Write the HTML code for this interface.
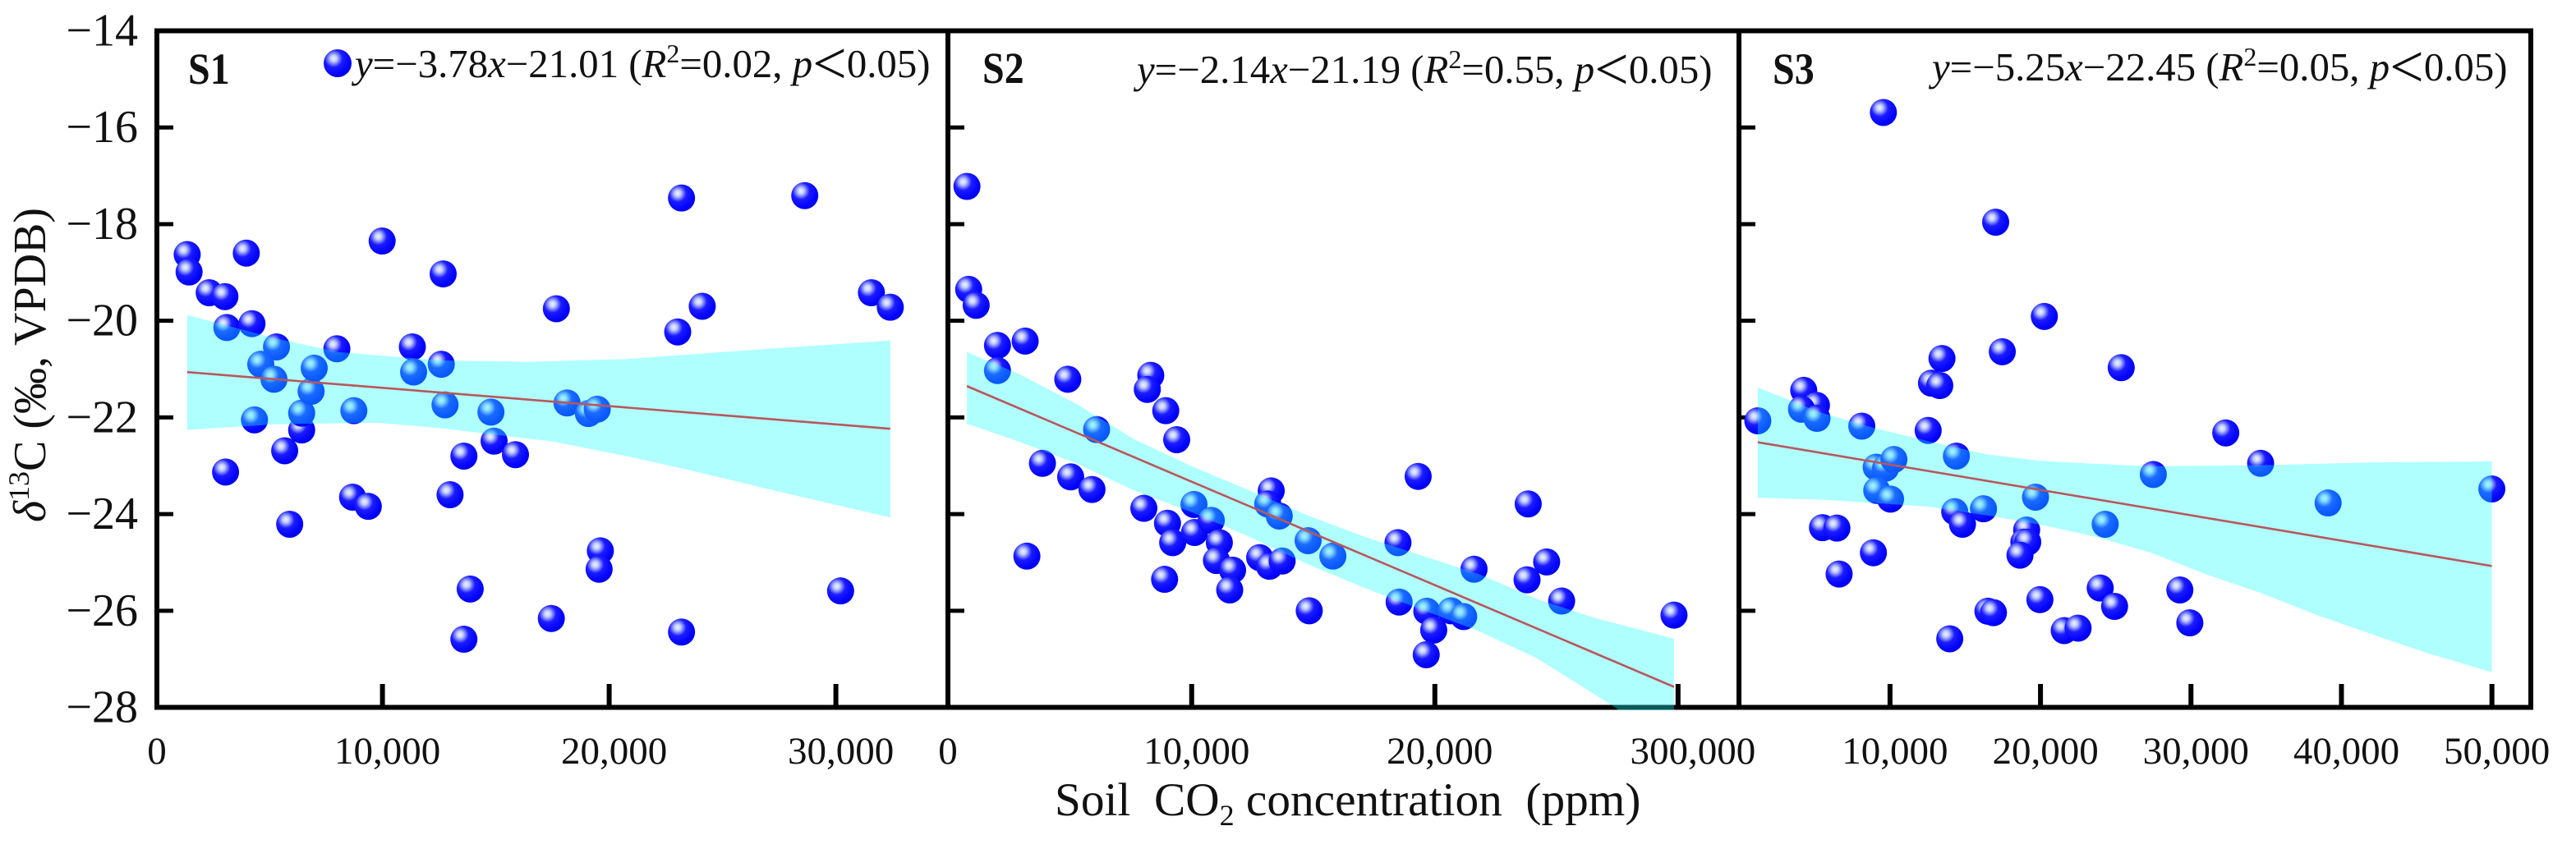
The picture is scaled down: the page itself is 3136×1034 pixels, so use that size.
<!DOCTYPE html>
<html lang="en">
<head>
<meta charset="utf-8">
<title>Soil CO2 concentration vs d13C</title>
<style>
html,body{margin:0;padding:0;background:#fff;width:3136px;height:1034px;overflow:hidden}
svg{display:block}
text{font-family:"Liberation Serif",serif;fill:#111}
</style>
</head>
<body>
<svg id="chart" xmlns="http://www.w3.org/2000/svg" width="3136" height="1034" viewBox="0 0 3136 1034">
  <defs>
    <radialGradient id="ball" cx="0.36" cy="0.33" r="0.72">
      <stop offset="0" stop-color="#f0f3ff"/>
      <stop offset="0.16" stop-color="#c0ccff"/>
      <stop offset="0.44" stop-color="#1c1cff"/>
      <stop offset="0.85" stop-color="#0000ff"/>
      <stop offset="1" stop-color="#0000e6"/>
    </radialGradient>
    <clipPath id="plot-clip"><rect x="180" y="30" width="2910" height="835"/></clipPath>
  </defs>
  <g id="bands-below"></g>
  <g id="frame" stroke="#000" stroke-width="6" fill="none">
    <rect x="191" y="37.5" width="2890" height="824"/>
    <line x1="1154" y1="37.5" x2="1154" y2="861.5"/>
    <line x1="2117" y1="37.5" x2="2117" y2="861.5"/>
  </g>
  <g id="ticks"></g>
  <g id="balls"></g>
  <g id="bands" clip-path="url(#plot-clip)"></g>
  <g id="fits"></g>
  <g id="labels"></g>

  <circle cx="411" cy="77" r="17" fill="url(#ball)"/>

  <text transform="translate(229,102) scale(1,1.13)" font-size="48" font-weight="bold">S1</text>
  <text transform="translate(1196,101) scale(1,1.13)" font-size="48" font-weight="bold">S2</text>
  <text transform="translate(2158,102) scale(1,1.13)" font-size="48" font-weight="bold">S3</text>

  <text x="432" y="94" font-size="48.8"><tspan font-style="italic">y</tspan>=−3.78<tspan font-style="italic">x</tspan>−21.01 (<tspan font-style="italic">R</tspan><tspan font-size="32" dy="-18">2</tspan><tspan dy="18">=0.02, </tspan><tspan font-style="italic">p</tspan><tspan font-size="74" dy="8">&lt;</tspan><tspan dy="-8">0.05)</tspan></text>
  <text x="1384" y="101" font-size="48.8"><tspan font-style="italic">y</tspan>=−2.14<tspan font-style="italic">x</tspan>−21.19 (<tspan font-style="italic">R</tspan><tspan font-size="32" dy="-18">2</tspan><tspan dy="18">=0.55, </tspan><tspan font-style="italic">p</tspan><tspan font-size="74" dy="8">&lt;</tspan><tspan dy="-8">0.05)</tspan></text>
  <text x="2352" y="98" font-size="48.8"><tspan font-style="italic">y</tspan>=−5.25<tspan font-style="italic">x</tspan>−22.45 (<tspan font-style="italic">R</tspan><tspan font-size="32" dy="-18">2</tspan><tspan dy="18">=0.05, </tspan><tspan font-style="italic">p</tspan><tspan font-size="74" dy="8">&lt;</tspan><tspan dy="-8">0.05)</tspan></text>

  <text x="1284" y="993" font-size="57.3" xml:space="preserve">Soil  CO<tspan font-size="36" dy="12">2</tspan><tspan dy="-12"> concentration  (ppm)</tspan></text>
  <text transform="translate(55,636) rotate(-90)" font-size="56"><tspan font-style="italic">δ</tspan><tspan font-size="36" dy="-20">13</tspan><tspan dy="20">C (‰, VPDB)</tspan></text>
</svg>

<script>
// ---- axis ticks ----
const yTickValues = [-14, -16, -18, -20, -22, -24, -26, -28];
const yTickLabels = ['−14', '−16', '−18', '−20', '−22', '−24', '−26', '−28'];
const s1TickValues = [0, 10000, 20000, 30000];
const s1TickLabels = ['0', '10,000', '20,000', '30,000'];
const s2TickValues = [0, 10000, 20000, 30000];
const s2TickLabels = ['0', '10,000', '20,000', '300,000'];
const s3TickValues = [10000, 20000, 30000, 40000, 50000];
const s3TickLabels = ['10,000', '20,000', '30,000', '40,000', '50,000'];

// ---- fits (slope per ppm, intercept) ----
const s1Fit = [-0.0000378, -21.01];
const s2Fit = [-0.000214, -21.19];
const s3Fit = [-0.0000525, -22.45];

// ---- S1 ----
const s1X = [1387,1470,2358,3051,3135,4244,3994,5326,4632,5215,4355,3079,5687,5908,6436,6436,6852,6990,7989,8738,8682,9376,9986,11318,11373,12677,12594,12760,12982,13592,13870,13592,14785,14924,15867,17670,17448,18141,19085,19473,19611,19556,23190,23023,24105,23190,28627,30208,31567,32399];
const s1Y = [-18.63,-18.99,-19.42,-19.50,-20.14,-20.06,-18.60,-20.54,-20.90,-21.21,-22.05,-23.13,-22.69,-24.21,-22.26,-21.91,-21.46,-20.98,-20.58,-21.86,-23.65,-23.84,-18.35,-20.54,-21.06,-19.03,-20.90,-21.74,-23.60,-22.80,-25.55,-26.59,-21.89,-22.49,-22.77,-19.75,-26.16,-21.70,-21.92,-21.83,-24.76,-25.14,-17.46,-20.23,-19.70,-26.44,-17.41,-25.59,-19.42,-19.72];
const s1UpperX = [1387,5326,8100,12538,16422,20860,26408,32399];
const s1UpperY = [-19.88,-20.37,-20.65,-20.82,-20.85,-20.79,-20.60,-20.41];
const s1LowerX = [1387,5326,9764,12538,17531,20860,23634,27795,32399];
const s1LowerY = [-22.26,-22.14,-22.11,-22.22,-22.50,-22.81,-23.10,-23.57,-24.07];

// ---- S2 ----
const s2X = [758,829,1137,2014,2014,3152,4905,6090,3863,5024,5900,3223,8318,8175,8934,9384,8033,9005,9218,8886,10095,10118,10806,11137,11019,11682,11564,12796,13199,13720,13270,13128,13602,14787,15806,14834,18483,18531,19313,19668,19953,19645,20664,21185,21611,23839,23791,24597,25213,29834];
const s2Y = [-17.22,-19.35,-19.68,-20.51,-21.03,-20.42,-21.21,-22.25,-22.95,-23.23,-23.49,-24.87,-21.13,-21.42,-21.86,-22.46,-23.88,-24.19,-24.59,-25.35,-23.80,-24.38,-24.13,-24.59,-24.96,-25.16,-25.57,-24.90,-25.08,-24.97,-23.52,-23.79,-24.04,-24.55,-24.87,-26.00,-24.59,-25.82,-23.22,-26.01,-26.40,-26.91,-26.00,-26.12,-25.14,-23.79,-25.36,-24.99,-25.80,-26.09];
const s2UpperX = [758,2891,5261,7630,10000,12370,14739,17109,19479,21848,24218,26588,29834];
const s2UpperY = [-20.65,-21.10,-21.72,-22.45,-23.01,-23.51,-24.02,-24.47,-24.86,-25.25,-25.76,-26.15,-26.58];
const s2LowerX = [758,2891,5261,7630,10000,12370,14739,17109,19479,21848,24218,27417,29834];
const s2LowerY = [-22.13,-22.50,-22.95,-23.51,-23.96,-24.47,-25.03,-25.53,-25.98,-26.43,-26.99,-28.00,-28.95];

// ---- S3 ----
const s3X = [1213,4265,5110,4117,5147,8124,9558,5514,6470,8896,6617,9080,9705,10256,9117,10035,12535,12756,13307,13454,14410,14300,14815,16211,13969,16505,16873,17020,17461,19078,18895,19152,18637,19667,20255,19961,21578,22497,23968,24299,24923,25364,27497,29261,29923,32312,34628,39113,49994];
const s3Y = [-22.07,-21.44,-21.75,-21.83,-22.02,-22.18,-15.69,-24.28,-24.29,-24.80,-25.24,-23.03,-23.05,-22.87,-23.51,-23.69,-22.27,-21.29,-21.34,-20.78,-22.80,-23.95,-24.21,-23.89,-26.58,-26.01,-26.04,-17.96,-20.64,-24.33,-24.58,-24.58,-24.85,-23.65,-19.91,-25.77,-26.41,-26.36,-25.53,-24.21,-25.91,-20.97,-23.18,-25.57,-26.25,-22.32,-22.95,-23.77,-23.48];
const s3UpperX = [1213,5294,8970,12647,16323,20000,23676,27352,34706,42058,49994];
const s3UpperY = [-21.38,-21.89,-22.22,-22.50,-22.76,-22.90,-22.96,-23.01,-22.99,-22.93,-22.91];
const s3LowerX = [1213,5294,8970,12647,16323,20000,23676,27352,31028,34706,38382,42058,45735,49994];
const s3LowerY = [-23.66,-23.70,-23.77,-23.85,-24.02,-24.22,-24.47,-24.80,-25.25,-25.64,-26.09,-26.49,-26.88,-27.27];

// ---- axis functions ----
const NS = 'http://www.w3.org/2000/svg';
const yPos = v => 37.5 + (-14 - v) * 58.86;
const xPosS1 = v => 189.6 + v * 0.0276;
const xPosS2 = v => 1154.7 + v * 0.029604;
const xPosS3 = v => 2117.7 + v * 0.018319;

const panels = [
  {id:'s1', xPos:xPosS1, left:191, X:s1X, Y:s1Y, upX:s1UpperX, upY:s1UpperY, loX:s1LowerX, loY:s1LowerY, fit:s1Fit, ticks:s1TickValues, labels:s1TickLabels},
  {id:'s2', xPos:xPosS2, left:1154, X:s2X, Y:s2Y, upX:s2UpperX, upY:s2UpperY, loX:s2LowerX, loY:s2LowerY, fit:s2Fit, ticks:s2TickValues, labels:s2TickLabels},
  {id:'s3', xPos:xPosS3, left:2117, X:s3X, Y:s3Y, upX:s3UpperX, upY:s3UpperY, loX:s3LowerX, loY:s3LowerY, fit:s3Fit, ticks:s3TickValues, labels:s3TickLabels}
];

const ballsG = document.getElementById('balls');
const bandsG = document.getElementById('bands');
const fitsG = document.getElementById('fits');
const ticksG = document.getElementById('ticks');
const labelsG = document.getElementById('labels');

yTickValues.forEach((v, i) => {
  const t = document.createElementNS(NS, 'text');
  
  
  t.setAttribute('x', 168);
  t.setAttribute('y', yPos(v) + 18);
  t.setAttribute('text-anchor', 'end');
  t.setAttribute('font-size', 56);
  t.textContent = yTickLabels[i];
  labelsG.appendChild(t);
});

panels.forEach(p => {
  // y ticks
  yTickValues.slice(1, -1).forEach(v => {
    const l = document.createElementNS(NS, 'line');
    
    
    l.setAttribute('x1', p.left);
    l.setAttribute('x2', p.left + 20);
    l.setAttribute('y1', yPos(v));
    l.setAttribute('y2', yPos(v));
    l.setAttribute('stroke', '#000');
    l.setAttribute('stroke-width', 5);
    ticksG.appendChild(l);
  });
  // x ticks and labels
  p.ticks.forEach((v, i) => {
    const label = p.labels[i];
    if (v !== 0) {
      const l = document.createElementNS(NS, 'line');
      
      
      l.setAttribute('x1', p.xPos(v));
      l.setAttribute('x2', p.xPos(v));
      l.setAttribute('y1', 861);
      l.setAttribute('y2', 833);
      l.setAttribute('stroke', '#000');
      l.setAttribute('stroke-width', 6);
      ticksG.appendChild(l);
    }
    const t = document.createElementNS(NS, 'text');
    
    
    const off = v === 0 ? 0 : 6 + (label.length - 6) * 12;
    t.setAttribute('x', (v === 0 ? p.left : p.xPos(v)) + off);
    t.setAttribute('y', 930);
    t.setAttribute('text-anchor', 'middle');
    t.setAttribute('font-size', 47);
    t.textContent = label;
    labelsG.appendChild(t);
  });
  // points
  p.X.forEach((x, i) => {
    const c = document.createElementNS(NS, 'circle');
    
    
    c.setAttribute('cx', p.xPos(x));
    c.setAttribute('cy', yPos(p.Y[i]));
    c.setAttribute('r', 16.5);
    c.setAttribute('fill', 'url(#ball)');
    ballsG.appendChild(c);
  });
  // confidence band
  const upper = p.upX.map((x, i) => p.xPos(x) + ',' + yPos(p.upY[i]));
  const lower = p.loX.map((x, i) => p.xPos(x) + ',' + yPos(p.loY[i])).reverse();
  const band = document.createElementNS(NS, 'polygon');
  
  
  band.setAttribute('points', upper.concat(lower).join(' '));
  band.setAttribute('fill', 'rgb(25,255,255)');
  band.setAttribute('fill-opacity', 0.35);
  bandsG.appendChild(band);
  // fit line
  const xMin = Math.min(...p.X), xMax = Math.max(...p.X);
  const fit = document.createElementNS(NS, 'line');
  
  
  fit.setAttribute('x1', p.xPos(xMin));
  fit.setAttribute('y1', yPos(p.fit[0] * xMin + p.fit[1]));
  fit.setAttribute('x2', p.xPos(xMax));
  fit.setAttribute('y2', yPos(p.fit[0] * xMax + p.fit[1]));
  fit.setAttribute('stroke', '#b8575c');
  fit.setAttribute('stroke-width', 2.6);
  fitsG.appendChild(fit);
});
</script>
</body>
</html>
